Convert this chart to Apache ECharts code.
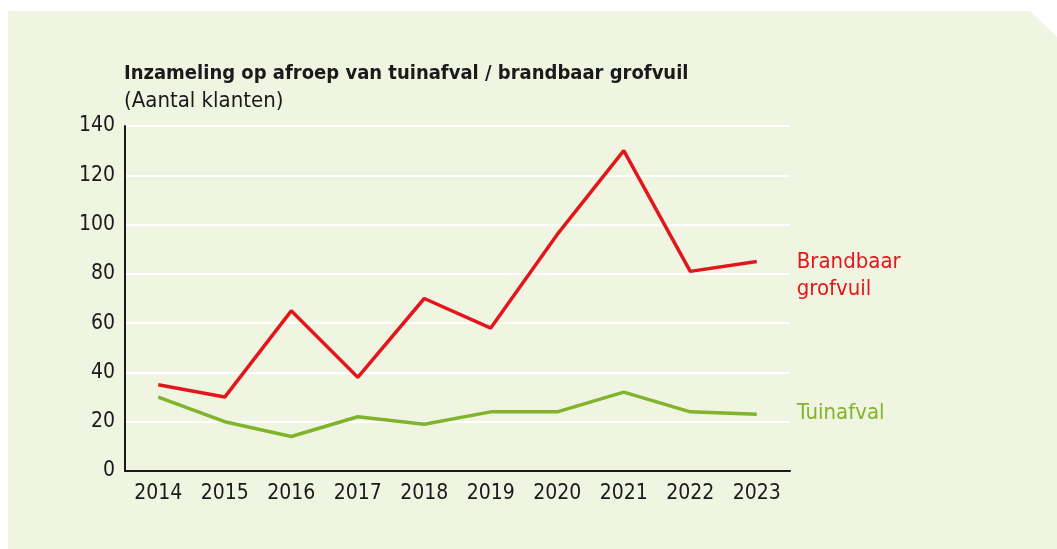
<!DOCTYPE html>
<html>
<head>
<meta charset="utf-8">
<script src="https://cdn.jsdelivr.net/npm/echarts@6/dist/echarts.min.js"></script>
<style>
  html, body { margin: 0; padding: 0; background: #fff; }
  #chart { width: 1057px; height: 549px; }
</style>
</head>
<body>
<div id="chart"></div>
<script>
// jaren op de x-as
const years = ['2014', '2015', '2016', '2017', '2018', '2019', '2020', '2021', '2022', '2023']
// aantal klanten per jaar
const grofvuil = [35, 30, 65, 38, 70, 58, 96, 130, 81, 85]
const tuinafval = [30, 20, 14, 22, 19, 24, 24, 32, 24, 23]
const seriesNames = ['Brandbaar\ngrofvuil', 'Tuinafval']

const font = '"DejaVu Sans Condensed", "DejaVu Sans", sans-serif'
const red = '#e3161b'
const green = '#80b42a'

const myChart = echarts.init(document.getElementById('chart'))
myChart.setOption({
  backgroundColor: '#ffffff',
  animation: false,
  graphic: [
    {
      type: 'polygon',
      z: -10,
      shape: { points: [[8, 11], [1030, 11], [1057, 37], [1057, 560], [8, 560]] },
      style: { fill: '#f0f5e2' }
    }
  ],
  title: {
    text: 'Inzameling op afroep van tuinafval / brandbaar grofvuil',
    subtext: '(Aantal klanten)',
    left: 119,
    top: 59,
    itemGap: 6,
    textStyle: { fontFamily: font, fontSize: 20, fontWeight: 'bold', color: '#1a1a1a' },
    subtextStyle: { fontFamily: font, fontSize: 22, color: '#1a1a1a' }
  },
  grid: { left: 125, right: 267, top: 126, bottom: 78, containLabel: false },
  xAxis: {
    type: 'category',
    data: years,
    boundaryGap: true,
    axisLine: { show: true, lineStyle: { color: '#1a1a1a', width: 2 } },
    axisTick: { show: false },
    axisLabel: { fontFamily: font, fontSize: 21, color: '#1a1a1a', margin: 12 }
  },
  yAxis: {
    type: 'value',
    min: 0,
    max: 140,
    interval: 20,
    axisLine: { show: true, lineStyle: { color: '#1a1a1a', width: 2 } },
    axisTick: { show: false },
    axisLabel: { fontFamily: font, fontSize: 21, color: '#1a1a1a', margin: 10 },
    splitLine: { show: true, lineStyle: { color: '#ffffff', width: 2 } }
  },
  series: [
    {
      name: seriesNames[0],
      type: 'line',
      data: grofvuil,
      symbol: 'none',
      lineStyle: { color: red, width: 3.5 },
      itemStyle: { color: red },
      endLabel: {
        show: true,
        formatter: seriesNames[0],
        distance: 40,
        offset: [0, 14],
        fontFamily: font,
        fontSize: 22,
        lineHeight: 27,
        color: red
      }
    },
    {
      name: seriesNames[1],
      type: 'line',
      data: tuinafval,
      symbol: 'none',
      lineStyle: { color: green, width: 3.5 },
      itemStyle: { color: green },
      endLabel: {
        show: true,
        formatter: seriesNames[1],
        distance: 40,
        offset: [0, -1],
        fontFamily: font,
        fontSize: 22,
        color: green
      }
    }
  ]
})
</script>
</body>
</html>
